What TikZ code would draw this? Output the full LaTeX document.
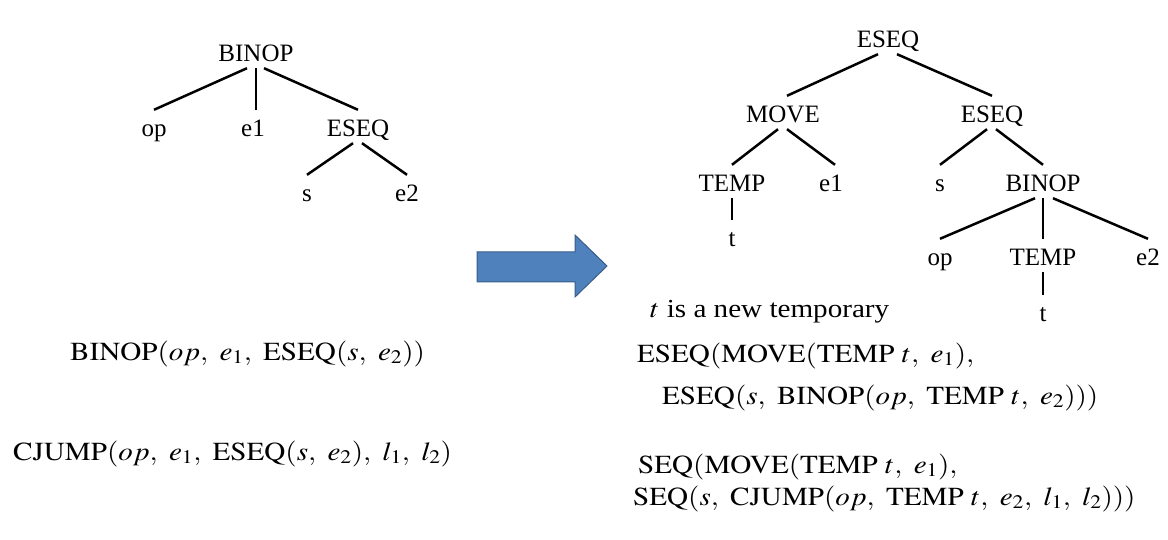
\documentclass[tikz,border=0pt]{standalone}
\usepackage{mathptmx}
\usepackage{fontspec}
\setmainfont{Liberation Serif}
\newcommand\csep{,\mskip5mu}
\newcommand\stretchx[1]{\scalebox{1.12}[1]{#1}}
\tikzset{
  tnode/.style={inner sep=1pt, text height=26pt, text depth=5pt, anchor=base, font=\fontsize{25}{30}\selectfont},
  tedge/.style={line width=2.5pt},
  formula/.style={inner sep=0pt, anchor=base west, font=\fontsize{26}{31}\selectfont},
  bigarrow/.style={fill={rgb,255:red,79;green,129;blue,189}, draw={rgb,255:red,56;green,93;blue,138}, line width=1pt},
}

\begin{document}
\begin{tikzpicture}[x=1pt,y=-1pt]
\useasboundingbox (0,0) rectangle (1168,540);
% tree before
\node[tnode] (b1) at (256,62) {BINOP};
\node[tnode] (op1) at (154,137) {op};
\node[tnode] (e11) at (253,137) {e1};
\node[tnode] (es1) at (358,137) {ESEQ};
\node[tnode] (s1) at (307,202) {s};
\node[tnode] (e21) at (407,202) {e2};
\draw[tedge] ([xshift=-9pt]b1.south) -- (op1.north);
\draw[tedge] (b1.south) -- (b1.south |- e11.north);
\draw[tedge] ([xshift=8pt]b1.south) -- (es1.north);
\draw[tedge] ([xshift=-5pt]es1.south) -- (s1.north);
\draw[tedge] ([xshift=4pt]es1.south) -- (e21.north);
% tree after
\node[tnode] (es2) at (888,48) {ESEQ};
\node[tnode] (mv) at (783,123) {MOVE};
\node[tnode] (es3) at (992,123) {ESEQ};
\node[tnode] (tp1) at (732,192) {TEMP};
\node[tnode] (e12) at (831,192) {e1};
\node[tnode] (t1) at (732,247) {t};
\node[tnode] (s2) at (940,192) {s};
\node[tnode] (b2) at (1043,192) {BINOP};
\node[tnode] (op2) at (940,266) {op};
\node[tnode] (tp2) at (1043,266) {TEMP};
\node[tnode] (e22) at (1148,266) {e2};
\node[tnode] (t2) at (1043,322) {t};
\draw[tedge] ([xshift=-10pt]es2.south) -- ([xshift=4pt]mv.north);
\draw[tedge] ([xshift=9pt]es2.south) -- (es3.north);
\draw[tedge] ([xshift=-5pt]mv.south) -- (tp1.north);
\draw[tedge] ([xshift=4pt]mv.south) -- ([xshift=4pt]e12.north);
\draw[tedge] (tp1.south) -- (tp1.south |- t1.north);
\draw[tedge] ([xshift=-5pt]es3.south) -- (s2.north);
\draw[tedge] ([xshift=4pt]es3.south) -- (b2.north);
\draw[tedge] ([xshift=-8pt]b2.south) -- (op2.north);
\draw[tedge] (b2.south) -- (tp2.north);
\draw[tedge] ([xshift=10pt]b2.south) -- (e22.north);
\draw[tedge] (tp2.south) -- (tp2.south |- t2.north);
% arrow
\draw[bigarrow] (477,252) -- (575,252) -- (575,235) -- (607,266) -- (575,297) -- (575,282) -- (477,282) -- cycle;
% formulas
\node[formula] (f1) at (70,360) {\stretchx{$\mathrm{BINOP}(op\csep e_1\csep \mathrm{ESEQ}(s\csep e_2))$}};
\node[formula] (f2) at (13,460) {\stretchx{$\mathrm{CJUMP}(op\csep e_1\csep \mathrm{ESEQ}(s\csep e_2)\csep l_1\csep l_2)$}};
\node[formula] (note) at (650,317) {\stretchx{$t$ is a new temporary}};
\node[formula] (f3) at (637,362) {\stretchx{$\mathrm{ESEQ}(\mathrm{MOVE}(\mathrm{TEMP}\ t\csep e_1),$}};
\node[formula] (f4) at (662,404) {\stretchx{$\mathrm{ESEQ}(s\csep \mathrm{BINOP}(op\csep \mathrm{TEMP}\ t\csep e_2)))$}};
\node[formula] (f5) at (638,473) {\stretchx{$\mathrm{SEQ}(\mathrm{MOVE}(\mathrm{TEMP}\ t\csep e_1),$}};
\node[formula] (f6) at (633,505) {\stretchx{$\mathrm{SEQ}(s\csep \mathrm{CJUMP}(op\csep \mathrm{TEMP}\ t\csep e_2\csep l_1\csep l_2)))$}};
\end{tikzpicture}
\end{document}
